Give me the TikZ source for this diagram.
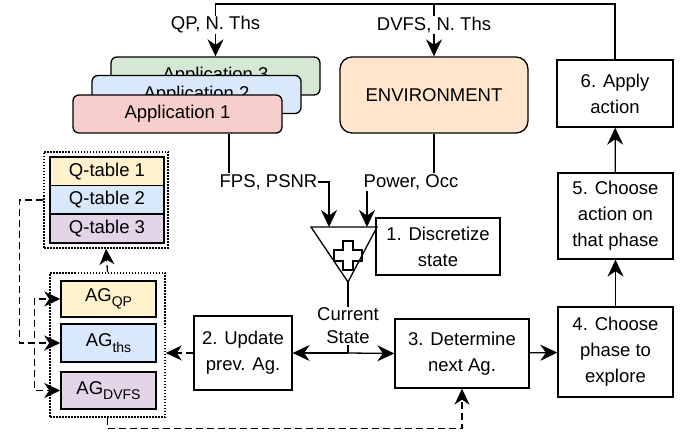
\documentclass[tikz,border=0pt]{standalone}
\usepackage{fontspec}
\setmainfont{Liberation Sans}
\usetikzlibrary{arrows.meta}
\tikzstyle{pixelPlane} = [x = 1pt, y = -1pt, font = \fontsize{18.5}{26}\selectfont]
\definecolor{appRed}{HTML}{F8CECC}
\definecolor{appBlue}{HTML}{DAE8FC}
\definecolor{appGreen}{HTML}{D5E8D4}
\definecolor{envOrange}{HTML}{FFE6CC}
\definecolor{tableYellow}{HTML}{FFF2CC}
\definecolor{tablePurple}{HTML}{E1D5E7}
\tikzstyle{appStyle} = [draw = black, line width = 1.3pt, rounded corners = 6pt, minimum width = 209pt, minimum height = 38pt, inner sep = 0pt]
\tikzstyle{envStyle} = [draw = black, line width = 1.3pt, rounded corners = 12pt, fill = envOrange, minimum width = 188pt, minimum height = 76pt]
\tikzstyle{stepStyle} = [draw = black, line width = 1.3pt, fill = white, align = center, inner sep = 0pt]
\tikzstyle{tableStyle} = [draw = black, line width = 1.6pt, minimum width = 114pt, minimum height = 28.7pt, inner sep = 0pt]
\tikzstyle{agStyle} = [draw = black, line width = 1.5pt, minimum width = 95pt, inner sep = 0pt]
\tikzstyle{groupStyle} = [draw = black, line width = 1.5pt, dash pattern = on 1.5pt off 1.5pt, inner sep = 0pt]
\tikzstyle{edgeLabel} = [fill = white, inner sep = 1pt]
\tikzstyle{plainLine} = [line width = 1.3pt]
\tikzstyle{flowLine} = [line width = 1.3pt, -{Stealth[length = 17pt, width = 16pt, inset = 5.5pt]}]
\tikzstyle{dashedFlow} = [line width = 1.3pt, dash pattern = on 7pt off 4pt, -{Stealth[length = 16pt, width = 15pt, inset = 5pt]}]
\newcommand{\agSub}[1]{\raisebox{-.3em}{\fontsize{14}{14}\selectfont #1}}
\newcommand{\stepBox}[6]{\node [stepStyle, minimum width = #4pt, minimum height = #5pt] (#1) at (#2,#3) {#6};}

\begin{document}
\begin{tikzpicture}[pixelPlane]
  \useasboundingbox (0,0) rectangle (693,438);

  % applications and environment
  \node [appStyle, fill = appGreen] (app3) at (215.5,76) {Application 3};
  \node [appStyle, fill = appBlue] (app2) at (196.5,94.5) {Application 2};
  \node [appStyle, fill = appRed] (app1) at (177.5,114) {Application 1};
  \node [envStyle] (env) at (434,95) {ENVIRONMENT};

  % steps
  \stepBox{applyAction}{615}{93.5}{116}{67}{6. Apply\\action}
  \stepBox{chooseAction}{615.5}{216}{115}{86}{5. Choose\\action on\\that phase}
  \stepBox{choosePhase}{615.5}{352}{115}{90}{4. Choose\\phase to\\explore}
  \stepBox{nextAg}{462}{353.5}{134}{69}{3. Determine\\next Ag.}
  \stepBox{updateAg}{243}{353}{98}{74}{2. Update\\prev. Ag.}
  \stepBox{discretize}{438}{246.5}{124}{57}{1. Discretize\\state}

  % sum block
  \draw [plainLine] (311,227) -- (377,227) -- (348,282) -- cycle;
  \draw [line width = 1.2pt] (343,241) -- (353,241) -- (353,250) -- (362,250) -- (362,261)
    -- (353,261) -- (353,270) -- (343,270) -- (343,261) -- (334,261) -- (334,250)
    -- (343,250) -- cycle;
  \coordinate (sumInA) at (329,227);
  \coordinate (sumInB) at (367,227);
  \coordinate (sumOut) at (348,282);
  \coordinate (stateSplit) at (348,353);

  % q-tables and agents
  \node [tableStyle, fill = tableYellow] (qTable1) at (107,171.5) {Q-table 1};
  \node [tableStyle, fill = appBlue] (qTable2) at (107,200) {Q-table 2};
  \node [tableStyle, fill = tablePurple] (qTable3) at (107,228.5) {Q-table 3};
  \node [groupStyle, minimum width = 124pt, minimum height = 96pt] (qGroup) at (106,200) {};
  \node [agStyle, fill = tableYellow, minimum height = 36pt] (agQp) at (108.5,299) {AG\agSub{QP}};
  \node [agStyle, fill = appBlue, minimum height = 38pt] (agThs) at (108.5,343) {AG\agSub{ths}};
  \node [agStyle, fill = tablePurple, minimum height = 37pt] (agDvfs) at (108.5,390.5) {AG\agSub{DVFS}};
  \node [groupStyle, minimum width = 115pt, minimum height = 144pt] (agGroup) at (107.5,345) {};

  % action loop
  \draw [flowLine] (choosePhase) -- (chooseAction);
  \draw [flowLine] (chooseAction) -- (applyAction);
  \draw [flowLine] (applyAction.north) |- (app3.north |- 0,4) -- (app3.north);
  \draw [flowLine] (env.north |- 0,4) -- (env.north);
  \node [edgeLabel] (qpLabel) at (215.5,25) {QP, N. Ths};
  \node [edgeLabel] (dvfsLabel) at (434,25) {DVFS, N. Ths};

  % observations
  \draw [flowLine] ([xshift = 51.5pt]app1.south) |- (sumInA |- 0,182) -- (sumInA);
  \draw [flowLine] (env.south) |- (sumInB |- 0,182) -- (sumInB);
  \node [edgeLabel] (fpsLabel) at (268.5,182) {FPS, PSNR};
  \node [edgeLabel] (powerLabel) at (411,182) {Power, Occ};

  % current state
  \draw [plainLine] (sumOut) -- (stateSplit);
  \draw [flowLine] (stateSplit) -- (updateAg.east);
  \draw [flowLine] (stateSplit) -- (nextAg.west);
  \draw [flowLine] (nextAg) -- (choosePhase);
  \node [edgeLabel, align = center, font = \fontsize{18.5}{23}\selectfont] (stateLabel) at (348,326) {Current\\State};

  % agent links
  \draw [dashedFlow] (updateAg.west) -- (updateAg.west -| agGroup.east);
  \draw [dashedFlow] (agGroup.south) -- ++(0,11) -| (nextAg.south);
  \draw [dashedFlow] (agGroup.north) -- (qGroup.south);
  \draw [dashedFlow] (qGroup.west) -- ++(-24,0) |- (agThs.west);
  \draw [dashedFlow] (qGroup.west) -- ++(-24,0) |- ([xshift = -26pt]agThs.west) |- (agQp.west);
  \draw [dashedFlow] (qGroup.west) -- ++(-24,0) |- ([xshift = -26pt]agThs.west) |- (agDvfs.west);
\end{tikzpicture}
\end{document}
